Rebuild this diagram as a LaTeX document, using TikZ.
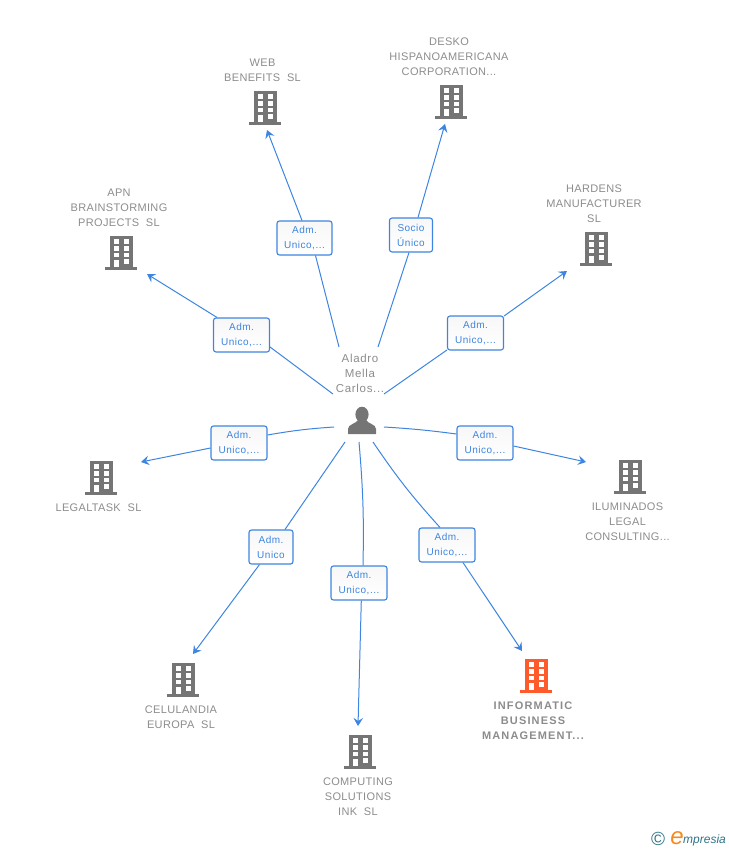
\documentclass[tikz,border=0pt]{standalone}
\usepackage{fontspec}
\setmainfont{Liberation Sans}
\newfontfamily\namefont[LetterSpace=3]{Liberation Sans}
\newfontfamily\rolefont[LetterSpace=5]{Liberation Sans}
\newfontfamily\personfont[LetterSpace=6]{Liberation Sans}
\newfontfamily\mainfont[LetterSpace=10.5]{Liberation Sans}
\usepackage{xcolor}
\usetikzlibrary{calc,arrows.meta}
\definecolor{linkblue}{HTML}{3D85E0}
\definecolor{iconcol}{HTML}{757575}
\definecolor{namecol}{HTML}{8C8C8C}
\definecolor{mainorange}{HTML}{FF5A2B}
\definecolor{logoteal}{HTML}{2F7488}
\definecolor{logoorange}{HTML}{F58A1F}
\tikzset{
	bldg/.pic={
		\fill[pic actions] (-11.5,-17) rectangle (11.5,14.5);
		\fill[pic actions] (-16,14) rectangle (16,17);
		\foreach \r in {-13.7,-7,-0.3}{
			\fill[white] (-7.3,\r) rectangle ++(5,4.6);
			\fill[white] (2.7,\r) rectangle ++(4.8,4.6);
		}
		\fill[white] (-7.3,7) rectangle (-2.3,14);
		\fill[white] (2.7,6.3) rectangle (7.5,11);
	},
	compname/.style={text=namecol,font=\namefont\fontsize{11}{15}\selectfont,align=center,inner sep=0pt},
	rolebox/.style={draw=linkblue,line width=1.1pt,rounded corners=2.5pt,top color=black!3,bottom color=white,text=linkblue,
		font=\rolefont\fontsize{10}{15}\selectfont,align=center,inner sep=0pt,minimum height=34pt},
	link/.style={draw=linkblue,line width=1pt},
	arrowtip/.style={-{Stealth[length=8pt,width=9.5pt,inset=3pt]}}
}
\begin{document}
\begin{tikzpicture}[x=1pt,y=-1pt]
	\useasboundingbox (0,0) rectangle (728,850);
	%person in the middle
	\node[compname,font=\personfont\fontsize{11.5}{15}\selectfont] (aladro) at (360,373){Aladro\\Mella\\Carlos...};
	\fill[iconcol] (362,414.5) ellipse (6.6 and 7.8);
	\fill[iconcol] (348,434) -- (348,429) .. controls (348,424) and (356,424) .. (358,420)
		-- (366,420) .. controls (368,424) and (376,424) .. (376,429) -- (376,434) -- cycle;
	%start points round the person
	\coordinate (sw) at (339,347);
	\coordinate (sd) at (378,347);
	\coordinate (sh) at (384,394);
	\coordinate (sa) at (333,394);
	\coordinate (sl) at (334,427);
	\coordinate (si) at (384,427);
	\coordinate (sc) at (345,442);
	\coordinate (so) at (359,442);
	\coordinate (sm) at (373,442);
	%arrow ends
	\coordinate (ew) at (267,130);
	\coordinate (ed) at (445,124);
	\coordinate (eh) at (567,271);
	\coordinate (ea) at (147,274);
	\coordinate (el) at (141,462);
	\coordinate (ei) at (586,462);
	\coordinate (ec) at (193,654);
	\coordinate (eo) at (358,726);
	\coordinate (em) at (522,651);
	%boxes on the lines
	\node[rolebox,minimum width=55pt] (rw) at (304.5,238){Adm.\\Unico,...};
	\node[rolebox,minimum width=43pt] (rd) at (411,235){Socio\\Único};
	\node[rolebox,minimum width=56pt] (rh) at (475.5,333){Adm.\\Unico,...};
	\node[rolebox,minimum width=56pt] (ra) at (241.5,335){Adm.\\Unico,...};
	\node[rolebox,minimum width=56pt] (rl) at (239,443){Adm.\\Unico,...};
	\node[rolebox,minimum width=56pt] (ri) at (485,443){Adm.\\Unico,...};
	\node[rolebox,minimum width=44pt] (rc) at (271,547){Adm.\\Unico};
	\node[rolebox,minimum width=56pt] (ro) at (359,583){Adm.\\Unico,...};
	\node[rolebox,minimum width=56pt] (rm) at (447,545){Adm.\\Unico,...};
	%lines leave the boxes off centre
	\draw[link] (sw) -- ($(rw.south)+(11,0)$);
	\draw[link,arrowtip] ($(rw.north)+(-2.5,0)$) -- (ew);
	\draw[link] (sd) -- ($(rd.south)+(-2,0)$);
	\draw[link,arrowtip] ($(rd.north)+(7,0)$) -- (ed);
	\draw[link] (sh) -- ($(rh.west)+(0,17)$);
	\draw[link,arrowtip] ($(rh.east)+(0,-17)$) -- (eh);
	\draw[link] (sa) -- ($(ra.east)+(0,12)$);
	\draw[link,arrowtip] ($(ra.north)+(-24.5,0)$) -- (ea);
	\draw[link] (sl) to[bend right=3] ($(rl.east)+(0,-8)$);
	\draw[link,arrowtip] ($(rl.west)+(0,5)$) -- (el);
	\draw[link] (si) to[bend left=2] ($(ri.west)+(0,-9)$);
	\draw[link,arrowtip] ($(ri.east)+(0,3)$) -- (ei);
	\draw[link] (sc) -- ($(rc.north)+(14,0)$);
	\draw[link,arrowtip] ($(rc.south)+(-11.5,0)$) -- (ec);
	\draw[link] (so) to[bend left=3] ($(ro.north)+(4,0)$);
	\draw[link,arrowtip] ($(ro.south)+(2.3,0)$) -- (eo);
	\draw[link] (sm) to[bend right=4] ($(rm.north)+(-7,0)$);
	\draw[link,arrowtip] ($(rm.south)+(16,0)$) -- (em);
	%companies
	\pic[fill=iconcol] at (265,108) {bldg};
	\pic[fill=iconcol] at (451,102) {bldg};
	\pic[fill=iconcol] at (596,249) {bldg};
	\pic[fill=iconcol] at (121,253) {bldg};
	\pic[fill=iconcol] at (101,478) {bldg};
	\pic[fill=iconcol] at (630,477) {bldg};
	\pic[fill=iconcol] at (183,680) {bldg};
	\pic[fill=iconcol] at (360,752) {bldg};
	\pic[fill=mainorange] at (536,676) {bldg};
	\node[compname] (web) at (262.5,70.5){WEB\\BENEFITS\ \ SL};
	\node[compname] (desko) at (449,57){DESKO\\HISPANOAMERICANA\\CORPORATION...};
	\node[compname] (hardens) at (594,204){HARDENS\\MANUFACTURER\\SL};
	\node[compname] (apn) at (119,208){APN\\BRAINSTORMING\\PROJECTS\ \ SL};
	\node[compname] (legaltask) at (98.5,508){LEGALTASK\ \ SL};
	\node[compname] (iluminados) at (627.5,522){ILUMINADOS\\LEGAL\\CONSULTING...};
	\node[compname] (celulandia) at (181,717.5){CELULANDIA\\EUROPA\ \ SL};
	\node[compname] (computing) at (358,797){COMPUTING\\SOLUTIONS\\INK\ \ SL};
	\node[compname,font=\mainfont\bfseries\fontsize{11}{15}\selectfont] (informatic) at (533,720.5){INFORMATIC\\BUSINESS\\MANAGEMENT...};
	%logo bottom right
	\node[inner sep=0pt,text=logoteal,font=\fontsize{19}{19}\selectfont] (copy) at (658,839){©};
	\node[inner sep=0pt,text=logoorange,font=\fontsize{24}{24}\itshape\selectfont] (loge) at (677,838){e};
	\node[inner sep=0pt,anchor=west,text=logoteal,font=\fontsize{12}{12}\itshape\selectfont] (logo) at (683,840){mpresia};
\end{tikzpicture}
\end{document}
